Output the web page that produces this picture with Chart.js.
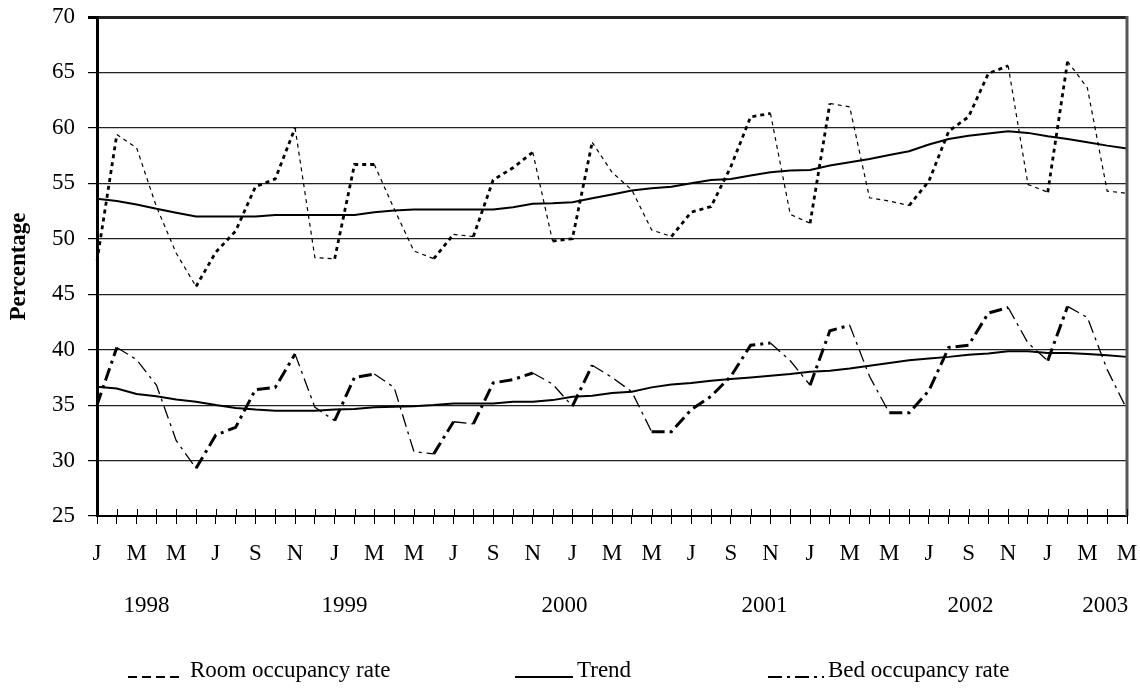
<!DOCTYPE html>
<html>
<head>
<meta charset="utf-8">
<script src="https://cdn.jsdelivr.net/npm/chart.js@4.4.1/dist/chart.umd.min.js"></script>
<style>
    html, body { margin: 0; padding: 0; background: #fff; }
    #wrap { position: relative; width: 1140px; height: 692px; }
    #occupancyChart { position: absolute; left: 0; top: 0; }
    .legend-item { position: absolute; top: 657px; height: 26px; font: 23px "Liberation Serif", "Times New Roman", serif; color: #000; white-space: nowrap; }
    .legend-item svg { position: absolute; left: 0; top: 0; }
    .legend-item span { position: absolute; top: 0; line-height: 26px; }
</style>
</head>
<body>
<div id="wrap">
    <canvas id="occupancyChart" width="1140" height="692"></canvas>
    <div class="legend-item" style="left:128px;">
        <svg width="56" height="26"><line x1="0" y1="20" x2="54" y2="20" stroke="#000" stroke-width="2" stroke-dasharray="9,5"/></svg>
        <span style="left:62px;">Room occupancy rate</span>
    </div>
    <div class="legend-item" style="left:515px;">
        <svg width="60" height="26"><line x1="0" y1="20" x2="58" y2="20" stroke="#000" stroke-width="2"/></svg>
        <span style="left:62px;">Trend</span>
    </div>
    <div class="legend-item" style="left:768px;">
        <svg width="58" height="26"><line x1="0" y1="20" x2="56" y2="20" stroke="#000" stroke-width="2" stroke-dasharray="14,5,3,5"/></svg>
        <span style="left:60px;">Bed occupancy rate</span>
    </div>
</div>
<script>
const monthLetters = ['J', 'F', 'M', 'A', 'M', 'J', 'J', 'A', 'S', 'O', 'N', 'D'];
const monthCount = 53;

const roomRate = [48.0, 59.4, 58.2, 52.9, 48.7, 45.7, 48.8, 50.7, 54.7, 55.4,
    60.0, 48.3, 48.2, 56.7, 56.7, 52.7, 48.9, 48.2, 50.4, 50.2,
    55.3, 56.4, 57.8, 49.8, 50.0, 58.7, 56.0, 54.4, 50.8, 50.2,
    52.4, 52.9, 56.5, 61.0, 61.3, 52.2, 51.4, 62.2, 61.9, 53.7,
    53.4, 53.0, 55.2, 59.7, 61.0, 64.9, 65.6, 54.9, 54.2, 66.0,
    63.6, 54.3, 54.1];

const roomTrend = [53.6, 53.4, 53.1, 52.7, 52.35, 52.0, 52.0, 52.0, 52.0, 52.15,
    52.15, 52.15, 52.15, 52.15, 52.4, 52.55, 52.65, 52.65, 52.65, 52.65,
    52.65, 52.85, 53.15, 53.2, 53.3, 53.65, 54.0, 54.35, 54.55, 54.7,
    55.0, 55.3, 55.4, 55.7, 56.0, 56.15, 56.2, 56.6, 56.9, 57.2,
    57.55, 57.9, 58.5, 59.0, 59.3, 59.5, 59.7, 59.55, 59.25, 59.0,
    58.7, 58.4, 58.15];

const bedRate = [35.0, 40.2, 39.1, 36.8, 31.8, 29.3, 32.3, 33.0, 36.4, 36.6,
    39.6, 34.8, 33.6, 37.5, 37.8, 36.6, 30.8, 30.6, 33.5, 33.3,
    37.0, 37.3, 37.9, 36.9, 34.9, 38.6, 37.5, 36.2, 32.6, 32.6,
    34.6, 35.8, 37.6, 40.4, 40.6, 39.0, 36.8, 41.7, 42.2, 37.6,
    34.3, 34.3, 36.3, 40.2, 40.4, 43.3, 43.8, 40.6, 39.0, 43.9,
    42.9, 38.2, 34.6];

const bedTrend = [36.65, 36.5, 36.0, 35.8, 35.5, 35.3, 35.0, 34.75, 34.6, 34.5,
    34.5, 34.5, 34.6, 34.65, 34.8, 34.85, 34.9, 35.0, 35.15, 35.15,
    35.15, 35.3, 35.3, 35.45, 35.75, 35.85, 36.1, 36.2, 36.6, 36.85,
    37.0, 37.2, 37.35, 37.5, 37.65, 37.8, 38.0, 38.1, 38.3, 38.55,
    38.8, 39.05, 39.2, 39.35, 39.55, 39.65, 39.85, 39.85, 39.7, 39.7,
    39.6, 39.5, 39.35];

const yearLabels = ['1998', '1999', '2000', '2001', '2002', '2003'];
// where each year label sits, as a (fractional) category index
const yearAnchors = [2.5, 12.5, 23.6, 33.7, 44.1, 50.9];

const labels = [];
for (let i = 0; i < monthCount; i++) {
    labels.push(monthLetters[i % 12]);
}

const serif = '"Liberation Serif", "Times New Roman", serif';

// thin on the way down, heavy on the way up, like the original printout
const upDown = (thick, thin) => ctx => ctx.p1.parsed.y < ctx.p0.parsed.y ? thin : thick;

const extrasPlugin = {
    id: 'extras',
    afterDraw(chart) {
        const { ctx, chartArea, scales } = chart;
        const x = scales.x;
        ctx.save();
        // right border of the plot area
        ctx.strokeStyle = '#555';
        ctx.lineWidth = 3;
        ctx.beginPath();
        ctx.moveTo(chartArea.right, chartArea.top - 1);
        ctx.lineTo(chartArea.right, chartArea.bottom);
        ctx.stroke();
        // tick marks crossing the category axis
        ctx.strokeStyle = '#000';
        ctx.lineWidth = 1;
        for (let i = 0; i < monthCount; i++) {
            const px = Math.round(x.getPixelForValue(i)) + 0.5;
            ctx.beginPath();
            ctx.moveTo(px, chartArea.bottom - 7);
            ctx.lineTo(px, chartArea.bottom);
            ctx.stroke();
        }
        // year row
        ctx.fillStyle = '#000';
        ctx.font = '23px ' + serif;
        ctx.textAlign = 'center';
        ctx.textBaseline = 'middle';
        yearLabels.forEach((year, i) => {
            ctx.fillText(year, x.getPixelForValue(yearAnchors[i]), 606);
        });
        ctx.restore();
    }
};

const ctx = document.getElementById('occupancyChart').getContext('2d');

new Chart(ctx, {
    type: 'line',
    data: {
        labels: labels,
        datasets: [
            {
                label: 'Room occupancy rate',
                data: roomRate,
                borderColor: '#000',
                borderWidth: 2.8,
                borderDash: [4, 4],
                segment: { borderWidth: upDown(2.8, 1.2) }
            },
            {
                label: 'Trend',
                data: roomTrend,
                borderColor: '#000',
                borderWidth: 2
            },
            {
                label: 'Bed occupancy rate',
                data: bedRate,
                borderColor: '#000',
                borderWidth: 3,
                borderDash: [13, 5, 3, 5],
                segment: { borderWidth: upDown(3, 1.3) }
            },
            {
                label: 'Trend',
                data: bedTrend,
                borderColor: '#000',
                borderWidth: 2
            }
        ]
    },
    options: {
        responsive: false,
        animation: false,
        devicePixelRatio: 1,
        layout: { padding: { top: 17, right: 13, left: 0, bottom: 0 } },
        elements: {
            point: { radius: 0 },
            line: { tension: 0, fill: false }
        },
        plugins: {
            legend: { display: false },
            tooltip: { enabled: false }
        },
        scales: {
            x: {
                offset: false,
                grid: {
                    drawOnChartArea: false,
                    tickLength: 8,
                    tickColor: '#000',
                    tickWidth: 1
                },
                border: { color: '#000', width: 2 },
                ticks: {
                    autoSkip: false,
                    maxRotation: 0,
                    padding: 16,
                    color: '#000',
                    font: { family: serif, size: 23 },
                    callback: (value, index) => index % 2 === 0 ? labels[index] : ''
                },
                afterFit: scale => {
                    scale.height = 176;
                    scale.paddingLeft = 0;
                    scale.paddingRight = 0;
                }
            },
            y: {
                min: 25,
                max: 70,
                ticks: {
                    stepSize: 5,
                    padding: 13,
                    color: '#000',
                    font: { family: serif, size: 23 }
                },
                grid: {
                    color: '#222',
                    lineWidth: c => c.tick && c.tick.value === 70 ? 3 : 1.2,
                    tickLength: 9,
                    tickColor: '#000'
                },
                border: { color: '#000', width: 3 },
                title: {
                    display: true,
                    text: 'Percentage',
                    color: '#000',
                    padding: { top: 5, bottom: 0 },
                    font: { family: serif, size: 23, weight: 'bold' }
                },
                afterFit: scale => {
                    scale.width = 97;
                    scale.paddingTop = 0;
                    scale.paddingBottom = 0;
                }
            }
        }
    },
    plugins: [extrasPlugin]
});
</script>
</body>
</html>
